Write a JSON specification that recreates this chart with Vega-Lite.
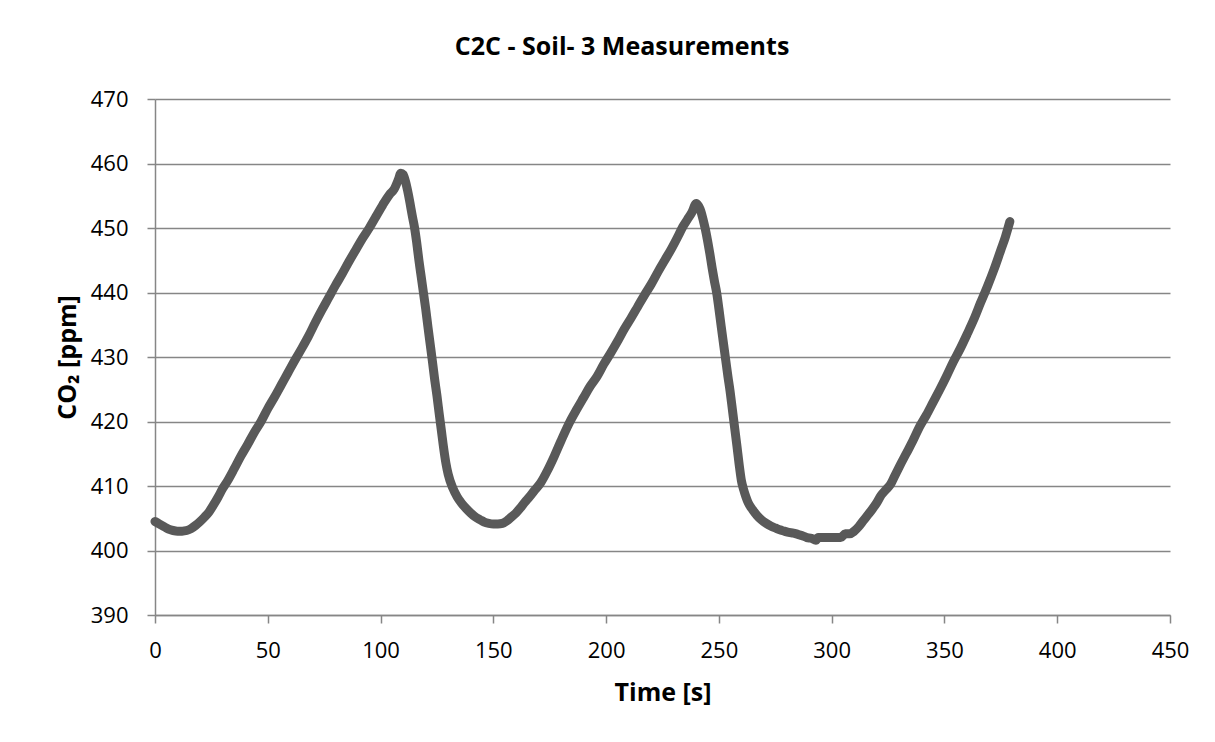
{
  "$schema": "https://vega.github.io/schema/vega-lite/v6.json",
  "autosize": "none",
  "width": 1015,
  "height": 516,
  "padding": {"left": 155, "top": 99, "right": 45, "bottom": 127},
  "background": "white",
  "title": {
    "text": "C2C - Soil- 3 Measurements",
    "font": "Open Sans",
    "fontSize": 25,
    "fontWeight": "bold",
    "color": "black",
    "anchor": "middle",
    "frame": "bounds",
    "offset": 28
  },
  "config": {
    "view": {"stroke": null},
    "axis": {
      "labelFont": "Open Sans",
      "labelFontSize": 22,
      "labelColor": "black",
      "titleFont": "Open Sans",
      "titleFontSize": 25,
      "titleFontWeight": "bold",
      "titleColor": "black",
      "domainColor": "#868686",
      "tickColor": "#868686",
      "gridColor": "#868686",
      "tickSize": 8,
      "domainWidth": 1.5,
      "tickWidth": 1.5,
      "gridWidth": 1.5
    }
  },
  "data": {
    "values": [
      {"t": 0, "co2": 404.5}, {"t": 2, "co2": 404.1}, {"t": 4, "co2": 403.7}, {"t": 6, "co2": 403.3},
      {"t": 8, "co2": 403.1}, {"t": 10, "co2": 403.0}, {"t": 12, "co2": 403.0}, {"t": 14, "co2": 403.1},
      {"t": 16, "co2": 403.4}, {"t": 18, "co2": 403.9}, {"t": 20, "co2": 404.5}, {"t": 22, "co2": 405.2},
      {"t": 24, "co2": 406.0}, {"t": 26, "co2": 407.1}, {"t": 28, "co2": 408.3}, {"t": 30, "co2": 409.6},
      {"t": 32, "co2": 410.7}, {"t": 35, "co2": 412.6}, {"t": 38, "co2": 414.6}, {"t": 41, "co2": 416.4},
      {"t": 44, "co2": 418.3}, {"t": 47, "co2": 420.0}, {"t": 50, "co2": 422.0}, {"t": 53, "co2": 423.8},
      {"t": 56, "co2": 425.7}, {"t": 59, "co2": 427.6}, {"t": 62, "co2": 429.5}, {"t": 65, "co2": 431.3},
      {"t": 68, "co2": 433.2}, {"t": 71, "co2": 435.3}, {"t": 74, "co2": 437.3}, {"t": 77, "co2": 439.2},
      {"t": 80, "co2": 441.1}, {"t": 83, "co2": 442.9}, {"t": 86, "co2": 444.8}, {"t": 89, "co2": 446.6},
      {"t": 92, "co2": 448.4}, {"t": 95, "co2": 450.0}, {"t": 98, "co2": 451.8}, {"t": 101, "co2": 453.6},
      {"t": 104, "co2": 455.2}, {"t": 106, "co2": 456.0}, {"t": 108, "co2": 457.6}, {"t": 109, "co2": 458.5},
      {"t": 110, "co2": 458.3}, {"t": 111, "co2": 457.3}, {"t": 112, "co2": 455.8}, {"t": 113, "co2": 454.0},
      {"t": 114, "co2": 452.0}, {"t": 115, "co2": 450.2}, {"t": 116, "co2": 447.8}, {"t": 117, "co2": 445.0},
      {"t": 118, "co2": 442.5}, {"t": 119, "co2": 440.0}, {"t": 120, "co2": 437.5}, {"t": 121, "co2": 434.7},
      {"t": 122, "co2": 432.0}, {"t": 123, "co2": 429.3}, {"t": 124, "co2": 426.5}, {"t": 125, "co2": 424.0},
      {"t": 126, "co2": 421.2}, {"t": 127, "co2": 418.5}, {"t": 128, "co2": 415.8}, {"t": 129, "co2": 413.5},
      {"t": 130, "co2": 411.8}, {"t": 132, "co2": 409.7}, {"t": 134, "co2": 408.3}, {"t": 136, "co2": 407.3},
      {"t": 138, "co2": 406.5}, {"t": 140, "co2": 405.8}, {"t": 142, "co2": 405.2}, {"t": 144, "co2": 404.8},
      {"t": 146, "co2": 404.4}, {"t": 148, "co2": 404.2}, {"t": 150, "co2": 404.1}, {"t": 152, "co2": 404.1},
      {"t": 154, "co2": 404.2}, {"t": 156, "co2": 404.6}, {"t": 158, "co2": 405.2}, {"t": 160, "co2": 405.8},
      {"t": 162, "co2": 406.6}, {"t": 164, "co2": 407.5}, {"t": 166, "co2": 408.3}, {"t": 168, "co2": 409.2},
      {"t": 171, "co2": 410.5}, {"t": 174, "co2": 412.4}, {"t": 177, "co2": 414.6}, {"t": 180, "co2": 417.0},
      {"t": 184, "co2": 420.0}, {"t": 187, "co2": 421.9}, {"t": 190, "co2": 423.7}, {"t": 193, "co2": 425.5},
      {"t": 196, "co2": 427.0}, {"t": 199, "co2": 428.9}, {"t": 202, "co2": 430.6}, {"t": 205, "co2": 432.4},
      {"t": 208, "co2": 434.3}, {"t": 211, "co2": 436.0}, {"t": 214, "co2": 437.8}, {"t": 217, "co2": 439.6},
      {"t": 220, "co2": 441.3}, {"t": 223, "co2": 443.2}, {"t": 226, "co2": 445.0}, {"t": 229, "co2": 446.8},
      {"t": 232, "co2": 448.8}, {"t": 234, "co2": 450.2}, {"t": 236, "co2": 451.3}, {"t": 238, "co2": 452.4},
      {"t": 240, "co2": 453.8}, {"t": 241, "co2": 453.4}, {"t": 242, "co2": 452.6}, {"t": 243, "co2": 451.3},
      {"t": 244, "co2": 449.8}, {"t": 245, "co2": 448.0}, {"t": 246, "co2": 446.0}, {"t": 247, "co2": 443.8},
      {"t": 248, "co2": 441.8}, {"t": 249, "co2": 440.0}, {"t": 250, "co2": 437.5}, {"t": 251, "co2": 434.8},
      {"t": 252, "co2": 432.2}, {"t": 253, "co2": 429.6}, {"t": 254, "co2": 427.0}, {"t": 255, "co2": 424.6},
      {"t": 256, "co2": 421.8}, {"t": 257, "co2": 419.0}, {"t": 258, "co2": 416.2}, {"t": 259, "co2": 413.3},
      {"t": 260, "co2": 410.8}, {"t": 261, "co2": 409.4}, {"t": 262, "co2": 408.3}, {"t": 263, "co2": 407.4},
      {"t": 265, "co2": 406.3}, {"t": 267, "co2": 405.4}, {"t": 269, "co2": 404.7}, {"t": 271, "co2": 404.2},
      {"t": 273, "co2": 403.8}, {"t": 275, "co2": 403.5}, {"t": 277, "co2": 403.2}, {"t": 279, "co2": 403.0},
      {"t": 281, "co2": 402.8}, {"t": 283, "co2": 402.7}, {"t": 285, "co2": 402.5}, {"t": 287, "co2": 402.3},
      {"t": 289, "co2": 402.0}, {"t": 291, "co2": 401.9}, {"t": 293, "co2": 401.6}, {"t": 294, "co2": 402.0},
      {"t": 296, "co2": 402.0}, {"t": 298, "co2": 402.0}, {"t": 300, "co2": 402.0}, {"t": 302, "co2": 402.0},
      {"t": 304, "co2": 402.0}, {"t": 306, "co2": 402.6}, {"t": 308, "co2": 402.6}, {"t": 310, "co2": 403.0},
      {"t": 312, "co2": 403.7}, {"t": 314, "co2": 404.6}, {"t": 316, "co2": 405.5}, {"t": 318, "co2": 406.4},
      {"t": 320, "co2": 407.4}, {"t": 322, "co2": 408.6}, {"t": 324, "co2": 409.4}, {"t": 326, "co2": 410.2},
      {"t": 328, "co2": 411.6}, {"t": 330, "co2": 413.0}, {"t": 333, "co2": 415.0}, {"t": 336, "co2": 417.0},
      {"t": 339, "co2": 419.2}, {"t": 342, "co2": 421.0}, {"t": 345, "co2": 423.0}, {"t": 348, "co2": 425.0},
      {"t": 351, "co2": 427.1}, {"t": 354, "co2": 429.3}, {"t": 357, "co2": 431.3}, {"t": 360, "co2": 433.5},
      {"t": 363, "co2": 435.8}, {"t": 366, "co2": 438.4}, {"t": 369, "co2": 440.9}, {"t": 372, "co2": 443.6},
      {"t": 375, "co2": 446.6}, {"t": 377, "co2": 448.6}, {"t": 379, "co2": 451.0}
    ]
  },
  "mark": {"type": "line", "color": "#595959", "strokeWidth": 9, "strokeCap": "round", "strokeJoin": "round", "interpolate": "monotone"},
  "encoding": {
    "x": {
      "field": "t",
      "type": "quantitative",
      "scale": {"domain": [0, 450], "nice": false},
      "axis": {"values": [0, 50, 100, 150, 200, 250, 300, 350, 400, 450], "grid": false, "title": "Time [s]", "labelPadding": 17, "titlePadding": 19, "labelFlush": false}
    },
    "y": {
      "field": "co2",
      "type": "quantitative",
      "scale": {"domain": [390, 470], "nice": false, "zero": false},
      "axis": {"values": [390, 400, 410, 420, 430, 440, 450, 460, 470], "grid": true, "title": "CO₂ [ppm]", "labelPadding": 19, "titlePadding": 10, "labelFlush": false}
    }
  }
}
